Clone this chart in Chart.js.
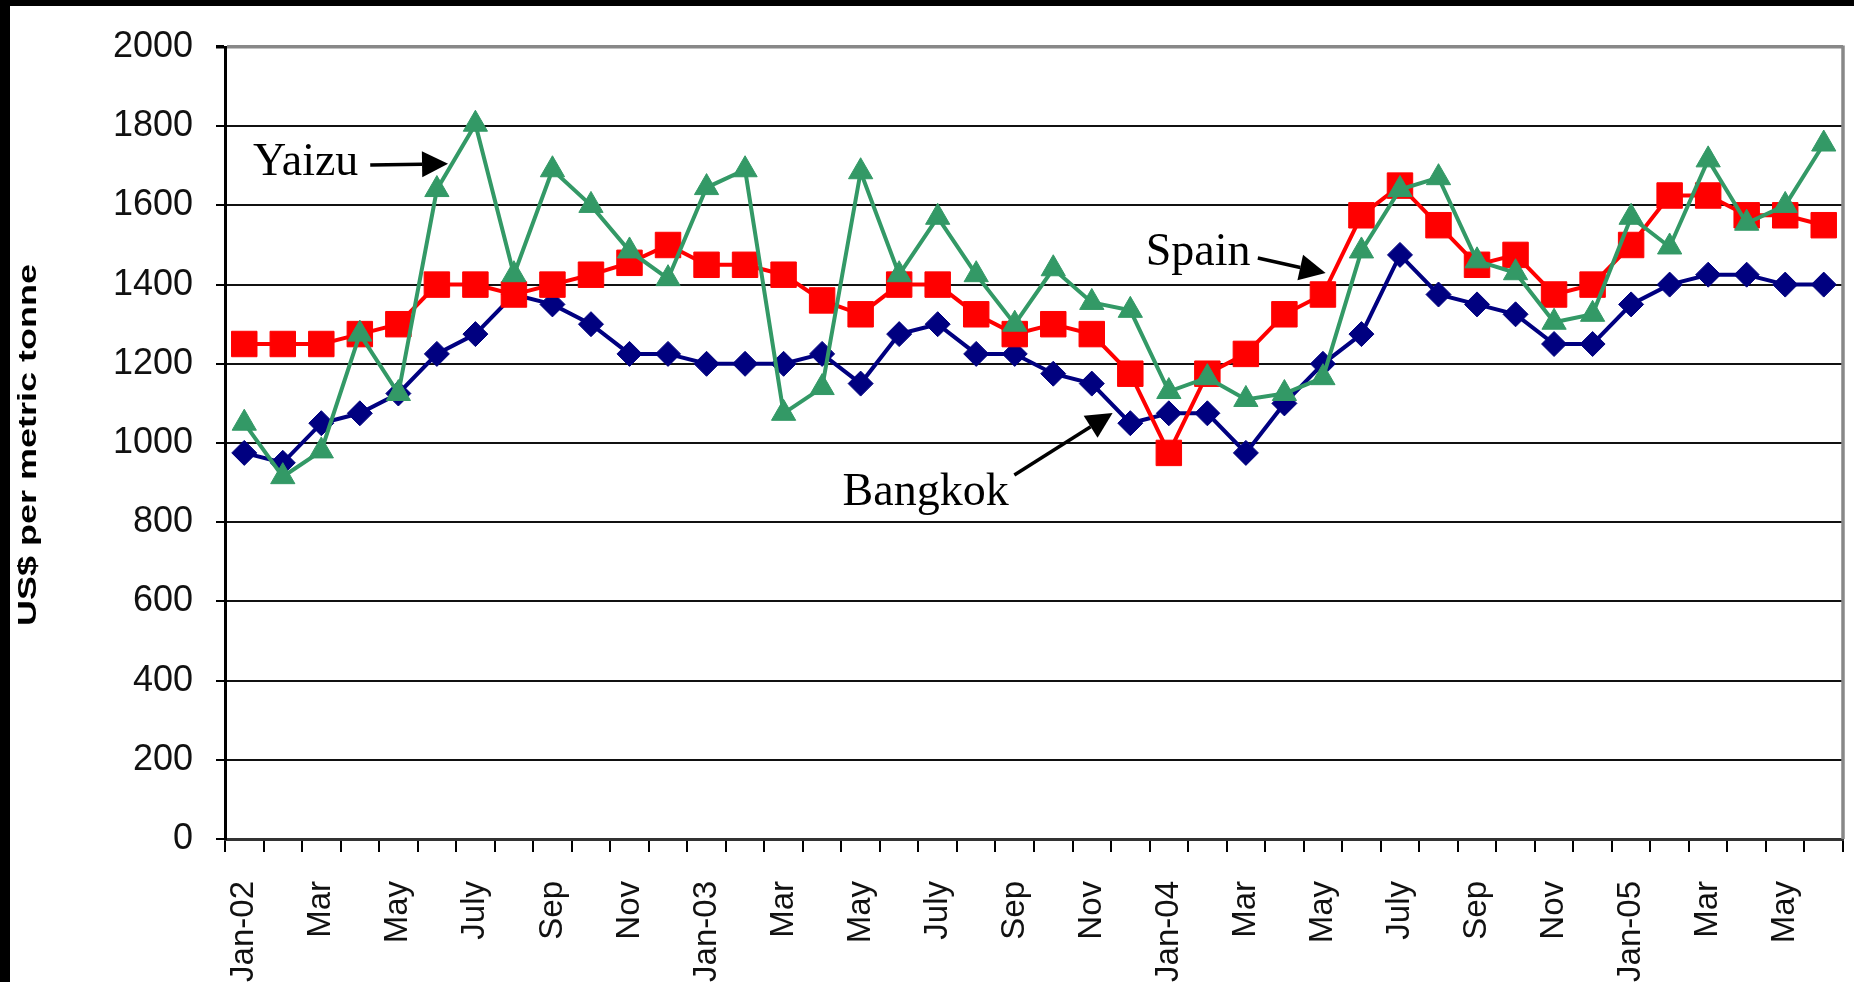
<!DOCTYPE html>
<html>
<head>
<meta charset="utf-8">
<script src="https://cdn.jsdelivr.net/npm/chart.js@4/dist/chart.umd.min.js"></script>
<style>
  html, body { margin: 0; padding: 0; background: #000; overflow: hidden; }
  #quadro { position: absolute; left: 10px; top: 6px; width: 1844px; height: 976px; background: #fff; }
</style>
</head>
<body>
<div id="quadro"><canvas id="precosView"></canvas></div>
<script>
// meses (Jan-02 ate Jun-05), so os pares aparecem no eixo
const meses = [
    "Jan-02", "Feb", "Mar", "Apr", "May", "June", "July", "Aug", "Sep", "Oct", "Nov", "Dec",
    "Jan-03", "Feb", "Mar", "Apr", "May", "June", "July", "Aug", "Sep", "Oct", "Nov", "Dec",
    "Jan-04", "Feb", "Mar", "Apr", "May", "June", "July", "Aug", "Sep", "Oct", "Nov", "Dec",
    "Jan-05", "Feb", "Mar", "Apr", "May", "June"
];

// precos em US$ por tonelada
const bangkok = [
    975, 950, 1050, 1075, 1125, 1225, 1275, 1375, 1350, 1300, 1225, 1225,
    1200, 1200, 1200, 1225, 1150, 1275, 1300, 1225, 1225, 1175, 1150, 1050,
    1075, 1075, 975, 1100, 1200, 1275, 1475, 1375, 1350, 1325, 1250, 1250,
    1350, 1400, 1425, 1425, 1400, 1400
];
const spain = [
    1250, 1250, 1250, 1275, 1300, 1400, 1400, 1375, 1400, 1425, 1455, 1500,
    1450, 1450, 1425, 1360, 1325, 1400, 1400, 1325, 1275, 1300, 1275, 1175,
    975, 1175, 1225, 1325, 1375, 1575, 1650, 1550, 1450, 1475, 1375, 1400,
    1500, 1625, 1625, 1575, 1575, 1550
];
const yaizu = [
    1050, 915, 980, 1275, 1125, 1640, 1805, 1425, 1690, 1600, 1485, 1415,
    1645, 1690, 1075, 1140, 1685, 1425, 1570, 1425, 1300, 1440, 1355, 1335,
    1130, 1165, 1110, 1125, 1165, 1485, 1640, 1670, 1460, 1430, 1305, 1325,
    1570, 1495, 1715, 1555, 1600, 1755
];

const tituloY = "US$ per metric tonne";

// rotulos e setas (em unidades dos eixos: indice do mes, valor)
const rotulos = [
    { texto: "Yaizu", x: 0.23, y: 1677 },
    { texto: "Spain", x: 23.4, y: 1449 },
    { texto: "Bangkok", x: 15.53, y: 843 },
];
const setas = [
    { de: [3.27, 1702], para: [5.29, 1705] },
    { de: [26.31, 1467], para: [28.07, 1429] },
    { de: [19.99, 919], para: [22.54, 1076] },
];

const fonteSans = "'Liberation Sans', Arial, sans-serif";
const fonteSerif = "'Liberation Serif', 'Times New Roman', serif";

// ____________________________________________________________________________________________________________________________________________________

// plugin: borda direita, titulo do eixo y esticado e as anotacoes com setas
const anotacoes = {
    id: "anotacoes",
    afterDraw(chart) {
        const ctx = chart.ctx;
        const area = chart.chartArea;
        const sx = chart.scales.x;
        const sy = chart.scales.y;

        // borda cinza do lado direito
        ctx.save();
        ctx.strokeStyle = "#888";
        ctx.lineWidth = 3.5;
        ctx.beginPath();
        ctx.moveTo(area.right, area.top - 1.5);
        ctx.lineTo(area.right, area.bottom);
        ctx.stroke();
        ctx.restore();

        // titulo do eixo y
        ctx.save();
        ctx.font = "bold 26px " + fonteSans;
        ctx.fillStyle = "#000";
        ctx.textAlign = "center";
        ctx.textBaseline = "middle";
        const largura = ctx.measureText(tituloY).width;
        ctx.translate(19, (area.top + area.bottom) / 2 + 2);
        ctx.rotate(-Math.PI / 2);
        ctx.scale(362 / largura, 1);
        ctx.fillText(tituloY, 0, 0);
        ctx.restore();

        // textos
        ctx.save();
        ctx.font = "46px " + fonteSerif;
        ctx.fillStyle = "#000";
        ctx.textAlign = "left";
        ctx.textBaseline = "alphabetic";
        rotulos.forEach(r => {
            ctx.fillText(r.texto, sx.getPixelForValue(r.x), sy.getPixelForValue(r.y));
        });

        // setas
        ctx.strokeStyle = "#000";
        ctx.fillStyle = "#000";
        ctx.lineWidth = 3.5;
        setas.forEach(s => {
            const x1 = sx.getPixelForValue(s.de[0]), y1 = sy.getPixelForValue(s.de[1]);
            const x2 = sx.getPixelForValue(s.para[0]), y2 = sy.getPixelForValue(s.para[1]);
            const ang = Math.atan2(y2 - y1, x2 - x1);
            const cab = 26, meia = 13;
            const bx = x2 - cab * Math.cos(ang), by = y2 - cab * Math.sin(ang);
            ctx.beginPath();
            ctx.moveTo(x1, y1);
            ctx.lineTo(bx, by);
            ctx.stroke();
            ctx.beginPath();
            ctx.moveTo(x2, y2);
            ctx.lineTo(bx + meia * Math.sin(ang), by - meia * Math.cos(ang));
            ctx.lineTo(bx - meia * Math.sin(ang), by + meia * Math.cos(ang));
            ctx.closePath();
            ctx.fill();
        });
        ctx.restore();
    }
};

// ____________________________________________________________________________________________________________________________________________________

const precos = document.getElementById("precosView").getContext("2d");

const precosChart = new Chart(precos, {
    type: "line",
    data: {
        labels: meses,
        datasets: [
            {
                label: "Yaizu",
                data: yaizu,
                borderColor: "#339966",
                backgroundColor: "#339966",
                borderWidth: 4,
                tension: 0,
                pointStyle: "triangle",
                pointRadius: 14,
                pointBackgroundColor: "#339966",
                pointBorderColor: "#339966",
                pointBorderWidth: 1,
            },
            {
                label: "Spain",
                data: spain,
                borderColor: "#ff0000",
                backgroundColor: "#ff0000",
                borderWidth: 4,
                tension: 0,
                pointStyle: "rect",
                pointRadius: 18,
                pointBackgroundColor: "#ff0000",
                pointBorderColor: "#ff0000",
                pointBorderWidth: 1,
            },
            {
                label: "Bangkok",
                data: bangkok,
                borderColor: "#000080",
                backgroundColor: "#000080",
                borderWidth: 4,
                tension: 0,
                pointStyle: "rectRot",
                pointRadius: 12.5,
                pointBackgroundColor: "#000080",
                pointBorderColor: "#000080",
                pointBorderWidth: 1,
            },
        ],
    },
    options: {
        responsive: true,
        maintainAspectRatio: false,
        animation: false,
        devicePixelRatio: 1,
        layout: { autoPadding: false, padding: { top: 41, right: 11, left: 0, bottom: 0 } },
        plugins: {
            legend: { display: false },
            tooltip: { enabled: false },
        },
        scales: {
            x: {
                type: "category",
                offset: true,
                grid: { offset: true, drawOnChartArea: false, drawTicks: true, tickLength: 13, color: "#000", lineWidth: 2 },
                border: { color: "#333", width: 3 },
                ticks: {
                    autoSkip: false,
                    minRotation: 90,
                    maxRotation: 90,
                    padding: 29,
                    color: "#111",
                    font: { family: fonteSans, size: 33 },
                    callback: (v, i) => (i % 2 === 0 ? meses[i] : ""),
                },
                afterFit: (s) => { s.height = 143; s.paddingLeft = 0; s.paddingRight = 0; },
            },
            y: {
                min: 0,
                max: 2000,
                ticks: {
                    stepSize: 200,
                    padding: 23,
                    color: "#111",
                    font: { family: fonteSans, size: 36 },
                    callback: (v) => String(v),
                },
                grid: {
                    color: (c) => (c.tick && c.tick.value === 2000 ? "#888" : "#111"),
                    lineWidth: (c) => (c.tick && c.tick.value === 2000 ? 3.5 : 2),
                    tickLength: 9,
                    tickColor: "#000",
                },
                border: { color: "#000", width: 3 },
                afterFit: (s) => { s.width = 215; s.paddingTop = 0; s.paddingBottom = 0; },
            },
        },
    },
    plugins: [anotacoes],
});
</script>
</body>
</html>
